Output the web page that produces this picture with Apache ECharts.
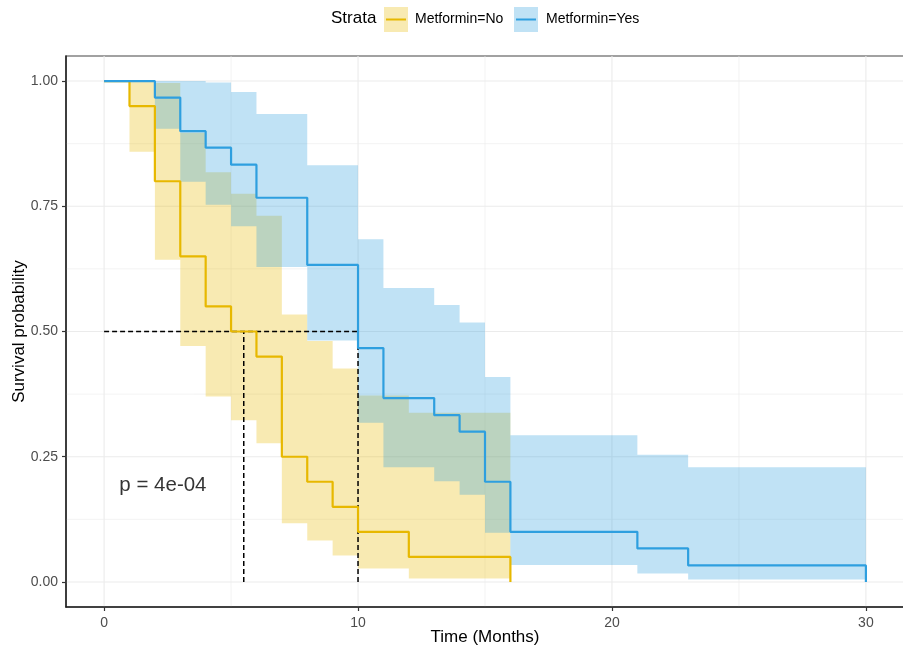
<!DOCTYPE html>
<html>
<head>
<meta charset="utf-8">
<script src="https://cdn.jsdelivr.net/npm/echarts@6/dist/echarts.min.js"></script>
<style>html,body{margin:0;padding:0;background:#fff}#c{width:903px;height:652px}</style>
</head>
<body>
<div id="c"></div>
<script>
// ---- data ----
const strataNames = ['Metformin=No', 'Metformin=Yes'];
const timeNo  = [0, 1, 2, 3, 4, 5, 6, 7, 8, 9, 10, 12, 16];
const survNo  = [1, 0.95, 0.80, 0.65, 0.55, 0.50, 0.45, 0.25, 0.20, 0.15, 0.10, 0.05, 0];
const upperNo = [null, 1.00, 0.996, 0.897, 0.818, 0.775, 0.731, 0.534, 0.481, 0.426, 0.372, 0.338, null];
const lowerNo = [null, 0.859, 0.643, 0.471, 0.370, 0.323, 0.277, 0.117, 0.083, 0.053, 0.027, 0.007, null];

const timeYes  = [0, 2, 3, 4, 5, 6, 8, 10, 11, 13, 14, 15, 16, 21, 23, 30];
const survYes  = [1, 0.967, 0.900, 0.867, 0.833, 0.767, 0.633, 0.467, 0.367, 0.333, 0.300, 0.200, 0.100, 0.067, 0.033, 0];
const upperYes = [null, 1.00, 1.00, 0.997, 0.978, 0.934, 0.832, 0.684, 0.587, 0.553, 0.518, 0.409, 0.293, 0.254, 0.229, null];
const lowerYes = [null, 0.905, 0.799, 0.753, 0.710, 0.629, 0.482, 0.318, 0.229, 0.201, 0.174, 0.098, 0.034, 0.017, 0.005, null];

const medians = [5.5, 10];
const medianLevel = 0.5;
const pValueText = 'p = 4e-04';
const pValuePos = [0.6, 0.2];

const xTicks = [0, 10, 20, 30];
const xMinor = [5, 15, 25];
const yTicks = [0, 0.25, 0.5, 0.75, 1.0];
const yMinor = [0.125, 0.375, 0.625, 0.875];
const xRange = [-1.5, 31.5];
const yRange = [-0.05, 1.05];

// ---- styling ----
const FONT = '"Liberation Sans", Arial, sans-serif';
const colNo = '#E7B800', colYes = '#2E9FDF';
const fillNo = 'rgba(231,184,0,0.3)', fillYes = 'rgba(46,159,223,0.3)';

function stepPts(t, s) { return t.map((v, i) => [v, s[i]]); }

function bandSeries(t, lo, up, fill) {
  return {
    type: 'custom', z: 1, silent: true,
    data: [0],
    renderItem: function (params, api) {
      const upperPts = [], lowerPts = [];
      for (let i = 0; i < t.length - 1; i++) {
        if (up[i] == null) continue;
        upperPts.push(api.coord([t[i], up[i]]), api.coord([t[i + 1], up[i]]));
        lowerPts.push(api.coord([t[i], lo[i]]), api.coord([t[i + 1], lo[i]]));
      }
      const pts = upperPts.concat(lowerPts.reverse());
      return { type: 'polygon', shape: { points: pts }, style: { fill: fill } };
    }
  };
}

function gridLineSeries(xs, ys, width) {
  return {
    type: 'custom', z: 0, silent: true, data: [0],
    renderItem: function (params, api) {
      const children = [];
      xs.forEach(v => {
        const a = api.coord([v, yRange[0]]), b = api.coord([v, yRange[1]]);
        children.push({ type: 'line', shape: { x1: a[0], y1: a[1], x2: b[0], y2: b[1] }, style: { stroke: '#EBEBEB', lineWidth: width } });
      });
      ys.forEach(v => {
        const a = api.coord([xRange[0], v]), b = api.coord([xRange[1], v]);
        children.push({ type: 'line', shape: { x1: a[0], y1: a[1], x2: b[0], y2: b[1] }, style: { stroke: '#EBEBEB', lineWidth: width } });
      });
      return { type: 'group', children: children };
    }
  };
}

const medianMax = Math.max.apply(null, medians);
const dashStyle = { color: '#000', width: 1.5, type: [5, 3] };
const medianSeries = [{
  type: 'line', data: [[0, medianLevel], [medianMax, medianLevel]], symbol: 'none', lineStyle: dashStyle, z: 4, silent: true
}].concat(medians.map(m => ({
  type: 'line', data: [[m, 0], [m, medianLevel]], symbol: 'none', lineStyle: dashStyle, z: 4, silent: true
})));

const chart = echarts.init(document.getElementById('c'), null, { renderer: 'canvas' });

const option = {
  animation: false,
  backgroundColor: '#fff',
  grid: { left: 66, top: 56, width: 838, height: 551, containLabel: false, outerBoundsMode: 'none',
    show: true, borderColor: '#444', borderWidth: 1.2, backgroundColor: 'transparent' },
  xAxis: {
    type: 'value', min: xRange[0], max: xRange[1],
    axisLine: { show: true, onZero: false, lineStyle: { color: '#222', width: 1.5 } },
    axisTick: { show: true, length: 4, customValues: xTicks, lineStyle: { color: '#333', width: 1.2 } },
    axisLabel: { customValues: xTicks, color: '#4D4D4D', fontSize: 14, fontFamily: FONT, margin: 9 },
    splitLine: { show: false },
    name: 'Time (Months)', nameLocation: 'middle', nameGap: 22, nameMoveOverlap: false,
    nameTextStyle: { color: '#000', fontSize: 17, fontFamily: FONT }
  },
  yAxis: {
    type: 'value', min: yRange[0], max: yRange[1],
    axisLine: { show: true, onZero: false, lineStyle: { color: '#222', width: 1.5 } },
    axisTick: { show: true, length: 4, customValues: yTicks, lineStyle: { color: '#333', width: 1.2 } },
    axisLabel: { customValues: yTicks, color: '#4D4D4D', fontSize: 14, fontFamily: FONT, margin: 8,
      formatter: v => v.toFixed(2) },
    splitLine: { show: false },
    name: 'Survival probability', nameLocation: 'middle', nameGap: 38, nameMoveOverlap: false,
    nameTextStyle: { color: '#000', fontSize: 17, fontFamily: FONT }
  },
  series: [
    gridLineSeries(xMinor, yMinor, 0.6),
    gridLineSeries(xTicks, yTicks, 1.1),
    bandSeries(timeNo, lowerNo, upperNo, fillNo),
    bandSeries(timeYes, lowerYes, upperYes, fillYes),
    { name: strataNames[0], type: 'line', step: 'end', data: stepPts(timeNo, survNo), symbol: 'none',
      lineStyle: { color: colNo, width: 2.2 }, z: 5, silent: true },
    { name: strataNames[1], type: 'line', step: 'end', data: stepPts(timeYes, survYes), symbol: 'none',
      lineStyle: { color: colYes, width: 2.2 }, z: 6, silent: true }
  ].concat(medianSeries).concat([{
    type: 'scatter', data: [pValuePos], symbolSize: 0, z: 7, silent: true,
    label: { show: true, formatter: pValueText, position: 'right', distance: 0, offset: [0, 4],
      color: '#000', fontSize: 20.5, fontFamily: FONT }
  }]),
  graphic: [
    { type: 'text', left: 331, top: 10, style: { text: 'Strata', fontSize: 17, fontFamily: FONT, fill: '#000' } },
    { type: 'rect', left: 384, top: 7, shape: { width: 24, height: 25 }, style: { fill: fillNo } },
    { type: 'line', shape: { x1: 386, y1: 19.5, x2: 406, y2: 19.5 }, style: { stroke: colNo, lineWidth: 2 } },
    { type: 'text', left: 415, top: 12, style: { text: strataNames[0], fontSize: 14, fontFamily: FONT, fill: '#000' } },
    { type: 'rect', left: 514, top: 7, shape: { width: 24, height: 25 }, style: { fill: fillYes } },
    { type: 'line', shape: { x1: 516, y1: 19.5, x2: 536, y2: 19.5 }, style: { stroke: colYes, lineWidth: 2 } },
    { type: 'text', left: 546, top: 12, style: { text: strataNames[1], fontSize: 14, fontFamily: FONT, fill: '#000' } }
  ]
};
chart.setOption(option);
</script>
</body>
</html>
